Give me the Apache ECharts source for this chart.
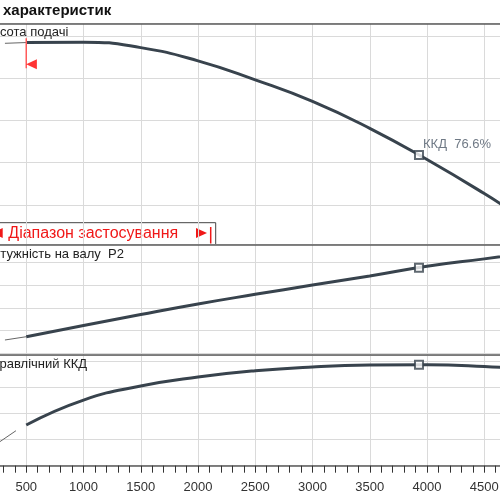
<!DOCTYPE html>
<html>
<head>
<meta charset="utf-8">
<script src="https://cdn.jsdelivr.net/npm/echarts@6/dist/echarts.min.js"></script>
<style>
  html, body { margin: 0; padding: 0; background: #fff; }
  #chart { width: 500px; height: 500px; }
</style>
</head>
<body>
<div id="chart"></div>
<script>
// flow (x axis) ticks
const qMin = 0
const qMax = 5000
const qStep = 500

// main curves
const flowQ = [500, 1000, 1500, 2000, 2500, 3000, 3500, 4000, 4500, 5000]
const headH = [29.22, 29.27, 28.62, 27.05, 24.8, 22.25, 19.06, 15.37, 11.33, 7.0]
const powerP2 = [5.47, 6.46, 7.43, 8.36, 9.21, 10.03, 10.83, 11.69, 12.34, 13.0]
const effHyd = [31.3, 50.5, 61.3, 68.2, 73.0, 75.9, 77.4, 77.7, 76.3, 73.5]

// thin extensions below the range of use
const headLowQ = [314, 500]
const headLow = [29.13, 29.22]
const powerLowQ = [314, 500]
const powerLow = [5.18, 5.47]
const effLowQ = [270, 410]
const effLow = [18.5, 26.9]

// duty point
const dutyQ = 3930
const dutyHead = 15.9
const dutyPower = 11.56
const dutyEff = 77.7
const dutyLabel = 'ККД  76.6%'

// start of range of use (red marker on the head curve)
const rangeQ = 500
const rangeMark = [29.73, 26.18]
const rangeArrow = 26.64

// hidden y ranges of the three panels
const headRange = [5.3, 31.5]
const powerRange = [3.855, 13.61]
const effRange = [0, 85.15]

const curveColor = '#38434d'
const gridColor = '#dadada'
const borderColor = '#5a5a5a'
const red = '#f01818'
const font = 'Liberation Sans, Arial, sans-serif'

const pairs = (xs, ys) => xs.map((x, i) => [x, ys[i]])

function flowAxis(gridIndex, extra) {
  return Object.assign({
    type: 'value',
    gridIndex: gridIndex,
    min: qMin,
    max: qMax,
    interval: qStep,
    axisLine: { show: true, onZero: false, lineStyle: { color: borderColor, width: 1.5 } },
    axisTick: { show: false },
    axisLabel: { show: false },
    splitLine: { show: true, lineStyle: { color: gridColor, width: 1 } }
  }, extra || {})
}

function panelAxis(gridIndex, range, step) {
  return {
    type: 'value',
    gridIndex: gridIndex,
    min: range[0],
    max: range[1],
    minInterval: step,
    maxInterval: step,
    axisLine: { show: false },
    axisTick: { show: false },
    axisLabel: { show: false },
    splitLine: { show: true, lineStyle: { color: gridColor, width: 1 } }
  }
}

function curve(x, y, data) {
  return {
    type: 'line', xAxisIndex: x, yAxisIndex: y, data: data,
    smooth: true, showSymbol: false, silent: true,
    lineStyle: { color: curveColor, width: 3 }, z: 5
  }
}

function thin(x, y, data) {
  return {
    type: 'line', xAxisIndex: x, yAxisIndex: y, data: data,
    showSymbol: false, silent: true,
    lineStyle: { color: '#666', width: 1 }, z: 4
  }
}

function duty(x, y, value, label) {
  return {
    type: 'scatter', xAxisIndex: x, yAxisIndex: y,
    data: [[dutyQ, value]],
    symbol: 'rect', symbolSize: 8, silent: true,
    itemStyle: { color: '#fff', borderColor: curveColor, borderWidth: 2 },
    label: label ? {
      show: true, formatter: label, position: 'right', offset: [-6, -11],
      fontFamily: font, fontSize: 13, color: '#4b5866'
    } : { show: false },
    z: 8
  }
}

const chart = echarts.init(document.getElementById('chart'), null, { renderer: 'canvas' })

const gridBase = { left: -31, right: -41.5, outerBoundsMode: 'none', containLabel: false }

chart.setOption({
  backgroundColor: '#fff',
  animation: false,
  grid: [
    Object.assign({ top: 23.3, height: 221.2 }, gridBase),
    Object.assign({ top: 244.5, height: 110.5 }, gridBase),
    Object.assign({ top: 355, height: 110.7 }, gridBase)
  ],
  xAxis: [
    flowAxis(0),
    flowAxis(1),
    flowAxis(2, {
      axisTick: { show: true, length: 7, lineStyle: { color: '#333', width: 1 } },
      minorTick: { show: true, splitNumber: 5, length: 7, lineStyle: { color: '#333', width: 1 } },
      axisLabel: { show: true, margin: 15, fontFamily: font, fontSize: 13, color: '#333', formatter: v => String(v) }
    }),
    flowAxis(0, { position: 'top', splitLine: { show: false } })
  ],
  yAxis: [
    panelAxis(0, headRange, 5),
    panelAxis(1, powerRange, 2),
    panelAxis(2, effRange, 20)
  ],
  series: [
    thin(0, 0, pairs(headLowQ, headLow)),
    curve(0, 0, pairs(flowQ, headH)),
    thin(1, 1, pairs(powerLowQ, powerLow)),
    curve(1, 1, pairs(flowQ, powerP2)),
    thin(2, 2, pairs(effLowQ, effLow)),
    curve(2, 2, pairs(flowQ, effHyd)),
    {
      type: 'line', xAxisIndex: 0, yAxisIndex: 0, silent: true,
      data: rangeMark.map(v => [rangeQ, v]),
      showSymbol: false, lineStyle: { color: '#ff5a5a', width: 1.5 }, z: 6
    },
    {
      type: 'scatter', xAxisIndex: 0, yAxisIndex: 0, silent: true,
      data: [[rangeQ, rangeArrow]],
      symbol: 'triangle', symbolRotate: 90, symbolSize: [10, 10.7], symbolOffset: [5.3, 0],
      itemStyle: { color: '#ff0000' }, z: 6
    },
    duty(0, 0, dutyHead, dutyLabel),
    duty(1, 1, dutyPower),
    duty(2, 2, dutyEff)
  ],
  graphic: [
    { type: 'text', left: 3, top: 3, z: 100, style: { text: 'характеристик', font: 'bold 15px ' + font, fill: '#111' } },
    { type: 'text', x: -16, y: 26, z: 100, style: { text: 'Висота подачі', font: '13px ' + font, fill: '#222' } },
    { type: 'text', x: -16, y: 248, z: 100, style: { text: 'Потужність на валу  P2', font: '13px ' + font, fill: '#222' } },
    { type: 'text', x: -18, y: 358, z: 100, style: { text: 'Гідравлічний ККД', font: '13px ' + font, fill: '#222' } },
    {
      type: 'group', z: 100,
      children: [
        { type: 'rect', shape: { x: -5, y: 222.7, width: 220.7, height: 21.8 }, style: { fill: '#fff', stroke: '#444', lineWidth: 1 } },
        { type: 'polygon', shape: { points: [[-8, 233], [2.7, 228], [2.7, 238]] }, style: { fill: red } },
        { type: 'text', x: 8.3, y: 225.5, style: { text: 'Діапазон застосування', font: '16px ' + font, fill: red } },
        { type: 'polygon', shape: { points: [[196, 228], [207, 233], [196, 238]] }, style: { fill: red } },
        { type: 'line', shape: { x1: 210.7, y1: 227, x2: 210.7, y2: 243.5 }, style: { stroke: red, lineWidth: 1.5 } }
      ]
    }
  ]
})
</script>
</body>
</html>
